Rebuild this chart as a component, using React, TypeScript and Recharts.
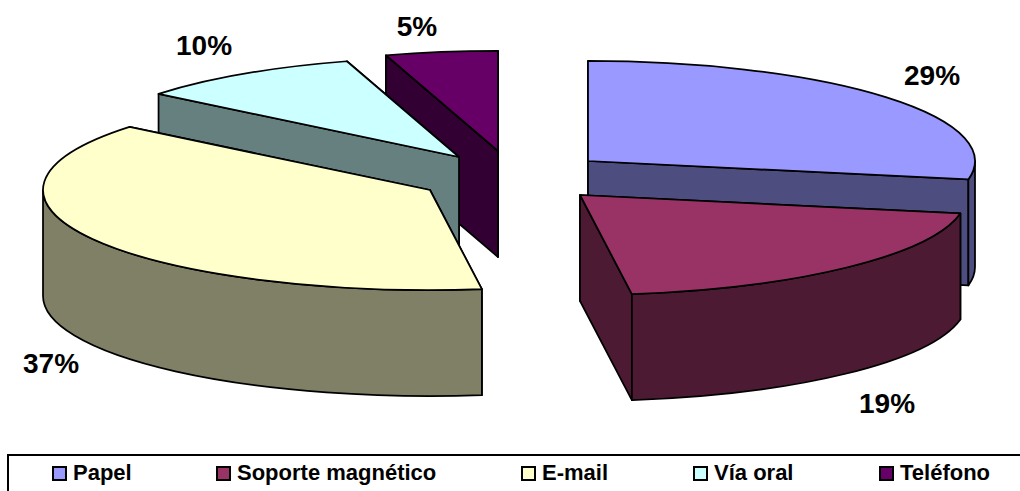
import { Legend, Pie, PieChart } from "recharts";

const categories = ["Papel", "Soporte magnético", "E-mail", "Vía oral", "Teléfono"];
const shares = [29, 19, 37, 10, 5];
const colors = ["#9999FF", "#993366", "#FFFFCC", "#CCFFFF", "#660066"];
const wallColors = ["#4D4D80", "#4D1A33", "#808066", "#668080", "#330033"];

// how far each slice is pulled out of the pie
const explode = [
    [50, -9],
    [42, 25],
    [-108, 20],
    [-79, -13],
    [-40, -19],
];
// label centre relative to the slice apex
const labelOffsets = [
    [344, -86],
    [307, 208],
    [-379, 173],
    [-255, -112],
    [-81, -125],
];
// legend swatch left edges
const legendX = [43, 207, 512, 684, 870];

// back slices have to be painted first, so the pie runs counter-clockwise from Papel
const paintOrder = [0, 4, 3, 2, 1];
const slices = paintOrder.map((slot) => ({ slot, name: categories[slot], value: shares[slot] }));
const firstAngle = 90 - (shares[0] / 100) * 360;

const SQUASH = 0.2585;
const DEPTH = 106;
const PERSPECTIVE = 1.07;
const FONT = '"Liberation Sans", Arial, sans-serif';
const STROKE = { stroke: "#000", strokeWidth: 1.75, strokeLinejoin: "round" as const };

// slices nearer the viewer open a little wider than the far ones
function foreshorten(deg: number) {
    const fromFront = ((((deg - 270) % 360) + 540) % 360) - 180;
    const half = (fromFront * Math.PI) / 360;
    const warped = (2 * Math.atan2(PERSPECTIVE * Math.sin(half), Math.cos(half)) * 180) / Math.PI;
    return deg + warped - fromFront;
}

function Slice3D(props: any) {
    const { cx, cy, outerRadius } = props;
    const startAngle = foreshorten(props.startAngle);
    const endAngle = foreshorten(props.endAngle);
    const slot: number = props.payload?.slot ?? props.slot;
    const ax = cx + explode[slot][0];
    const ay = cy + explode[slot][1];
    const rx = outerRadius;
    const ry = outerRadius * SQUASH;

    const at = (deg: number, drop = 0) => {
        const r = (deg * Math.PI) / 180;
        return `${ax + rx * Math.cos(r)} ${ay - ry * Math.sin(r) + drop}`;
    };
    const quad = (deg: number) =>
        `M${ax} ${ay}L${at(deg)}L${at(deg, DEPTH)}L${ax} ${ay + DEPTH}Z`;

    // the cut face whose rim sits higher on screen goes down first
    const cuts = [startAngle, endAngle].sort(
        (a, b) => Math.sin((b * Math.PI) / 180) - Math.sin((a * Math.PI) / 180)
    );

    // rim wall only exists on the front half of the ellipse
    const walls: string[] = [];
    for (const k of [-1, 0]) {
        const lo = Math.max(startAngle, 180 + 360 * k);
        const hi = Math.min(endAngle, 360 + 360 * k);
        if (hi > lo) {
            const big = hi - lo > 180 ? 1 : 0;
            walls.push(
                `M${at(lo)}A${rx} ${ry} 0 ${big} 0 ${at(hi)}L${at(hi, DEPTH)}A${rx} ${ry} 0 ${big} 1 ${at(lo, DEPTH)}Z`
            );
        }
    }
    const big = endAngle - startAngle > 180 ? 1 : 0;
    const top = `M${ax} ${ay}L${at(startAngle)}A${rx} ${ry} 0 ${big} 0 ${at(endAngle)}Z`;

    return (
        <g>
            {cuts.map((deg) => (
                <path key={deg} d={quad(deg)} fill={wallColors[slot]} {...STROKE} />
            ))}
            {walls.map((d) => (
                <path key={d} d={d} fill={wallColors[slot]} {...STROKE} />
            ))}
            <path d={top} fill={colors[slot]} {...STROKE} />
            <text
                x={ax + labelOffsets[slot][0]}
                y={ay + labelOffsets[slot][1]}
                textAnchor="middle"
                dominantBaseline="central"
                fontFamily={FONT}
                fontWeight="bold"
                fontSize={28}
                fill="#000"
            >
                {shares[slot]}%
            </text>
        </g>
    );
}

// the legend frame runs off the page, only its top and left edges show
function LegendBox() {
    return (
        <div
            style={{
                position: "relative",
                width: 1013,
                height: 35,
                borderTop: "2px solid #000",
                borderLeft: "2px solid #000",
                boxSizing: "content-box",
                fontFamily: FONT,
                fontWeight: "bold",
                fontSize: 22,
                color: "#000",
            }}
        >
            {categories.map((name, i) => (
                <span key={name}>
                    <span
                        style={{
                            position: "absolute",
                            left: legendX[i],
                            top: 10,
                            width: 11,
                            height: 11,
                            background: colors[i],
                            border: "2px solid #000",
                        }}
                    />
                    <span style={{ position: "absolute", left: legendX[i] + 21, top: 4, lineHeight: "26px", whiteSpace: "nowrap" }}>
                        {name}
                    </span>
                </span>
            ))}
        </div>
    );
}

export default function App() {
    return (
        <div style={{ position: "absolute", left: 0, top: 0, width: 1020, height: 491, background: "#fff", overflow: "hidden" }}>
            <PieChart width={1020} height={491} margin={{ top: 0, right: 0, bottom: 0, left: 0 }}>
                <Pie
                    data={slices}
                    dataKey="value"
                    nameKey="name"
                    cx={538}
                    cy={170}
                    innerRadius={0}
                    outerRadius={387}
                    startAngle={firstAngle}
                    endAngle={firstAngle + 360}
                    shape={Slice3D}
                    inactiveShape={Slice3D}
                    activeShape={Slice3D}
                    labelLine={false}
                    isAnimationActive={false}
                />
                <Legend content={<LegendBox />} wrapperStyle={{ left: 7, top: 454, width: 1013, bottom: "auto" }} />
            </PieChart>
        </div>
    );
}
